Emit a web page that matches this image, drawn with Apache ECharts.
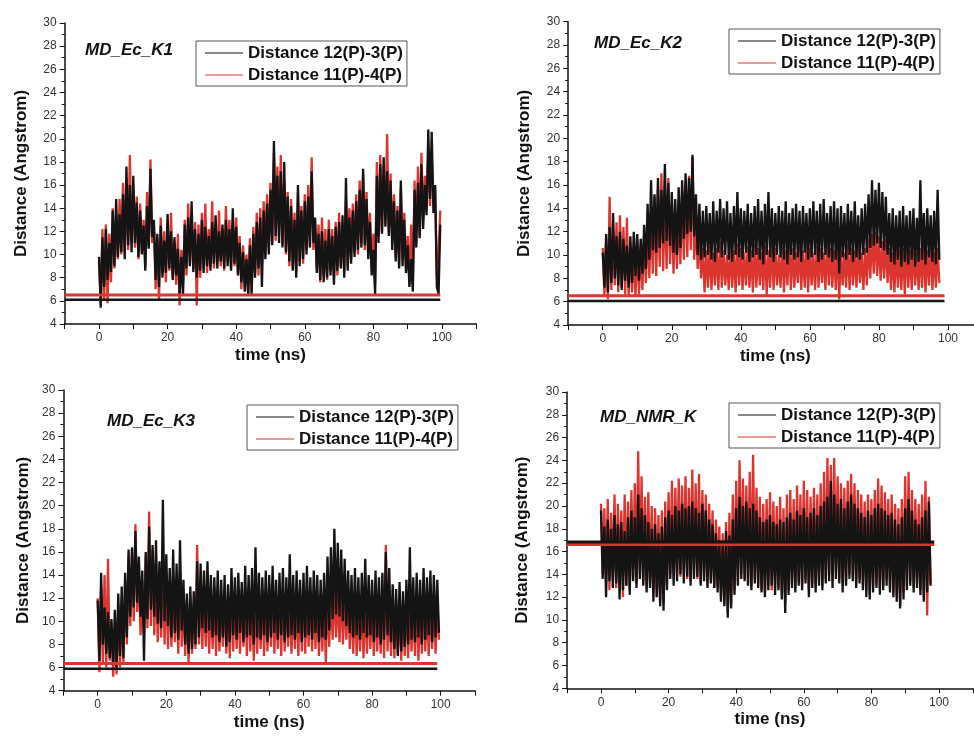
<!DOCTYPE html>
<html>
<head>
<meta charset="utf-8">
<script src="https://cdn.jsdelivr.net/npm/echarts@6/dist/echarts.min.js"></script>
<style>
  html, body { margin: 0; padding: 0; background: #fff; }
  #main { width: 974px; height: 739px; }
</style>
</head>
<body>
<div id="main"></div>
<script>
// trace values every 0.5 ns (high / low alternate)
var k1Black = [
  9.8,5.4, 11.5,7.2, 12.2,7.8, 11.0,8.5, 13.8,9.0, 14.8,9.8, 13.5,10.2, 15.2,9.6, 17.6,10.8, 16.0,10.2,
  16.8,11.0, 14.5,9.8, 13.8,10.0, 12.5,8.6, 14.2,10.5, 17.4,11.5, 13.0,7.8, 11.8,7.2, 12.5,8.0, 11.2,8.4,
  13.5,8.8, 12.0,7.8, 11.5,8.2, 10.5,6.5, 9.8,6.6, 12.6,8.8, 13.2,9.0, 14.6,8.5, 12.2,8.0, 11.8,8.6,
  13.0,8.4, 12.4,9.0, 11.6,8.6, 12.8,9.2, 13.4,8.8, 12.0,9.4, 12.6,8.8, 13.0,9.0, 12.2,8.6, 14.0,9.2,
  12.4,8.2, 11.0,7.6, 10.2,6.8, 9.6,6.5, 10.8,6.6, 11.8,8.0, 12.8,8.8, 13.2,7.2, 13.8,9.6, 14.4,10.0,
  15.6,10.8, 19.8,11.6, 16.8,11.0, 17.2,10.6, 18.0,10.2, 15.0,9.4, 14.2,8.6, 13.0,8.0, 16.0,9.0, 13.8,9.6,
  14.6,10.0, 15.0,10.6, 17.2,11.0, 13.2,8.4, 11.8,7.8, 12.0,7.6, 11.2,8.0, 12.2,8.2, 11.6,7.4, 12.4,8.6,
  12.8,8.8, 13.4,8.0, 16.6,8.6, 13.2,9.2, 13.8,9.8, 14.6,10.4, 15.6,10.6, 17.4,10.8, 14.8,9.6, 12.8,8.2,
  10.4,6.6, 16.8,11.0, 17.8,11.8, 18.4,12.4, 17.2,11.6, 16.4,10.4, 14.6,9.4, 13.8,8.8, 16.4,9.0, 13.0,8.4,
  10.8,7.2, 9.6,6.8, 15.6,10.6, 16.2,11.4, 17.8,12.2, 16.0,13.4, 20.8,14.8, 20.6,13.6, 16.0,7.2, 6.6,12.6
];
var k1Red = [
  9.4,6.2, 12.2,6.0, 12.6,5.8, 11.8,7.6, 14.0,8.8, 13.6,9.6, 14.8,10.0, 16.2,10.2, 16.6,10.4, 18.6,11.0,
  15.6,10.6, 15.0,9.6, 14.4,10.2, 13.0,9.0, 15.4,10.8, 18.2,11.0, 12.6,7.0, 11.4,6.0, 13.2,8.4, 12.0,7.6,
  12.8,8.6, 13.6,8.0, 11.0,7.4, 11.8,5.6, 10.4,7.2, 13.0,8.2, 14.4,9.2, 13.4,8.8, 12.8,5.6, 12.6,8.0,
  13.6,8.8, 14.4,8.4, 12.2,9.2, 14.6,8.8, 12.6,9.4, 13.8,9.0, 12.2,8.6, 14.2,9.4, 13.0,8.8, 12.6,9.0,
  13.2,8.4, 11.6,7.0, 10.8,7.4, 10.0,6.6, 11.4,6.8, 12.4,8.4, 13.6,8.2, 14.0,9.2, 14.6,9.8, 15.2,10.6,
  16.2,11.0, 18.8,11.2, 17.6,11.6, 18.6,10.8, 16.4,10.0, 15.4,9.0, 14.8,8.8, 13.6,8.4, 15.4,9.4, 14.2,9.2,
  15.2,10.4, 16.0,10.8, 18.4,10.4, 12.8,8.8, 12.6,7.6, 13.2,8.2, 12.2,7.8, 13.0,8.6, 12.2,8.0, 12.8,8.2,
  13.6,9.0, 12.6,8.4, 14.8,9.0, 14.0,9.6, 14.4,10.2, 15.2,10.0, 16.4,11.0, 17.0,10.4, 15.4,9.8, 13.6,8.6,
  11.8,7.4, 18.0,11.6, 18.6,12.0, 17.6,12.6, 20.4,12.0, 17.0,11.0, 15.2,9.8, 14.2,9.0, 15.8,9.6, 13.6,8.8,
  11.6,7.8, 12.6,7.2, 16.4,11.0, 17.6,11.6, 18.8,13.0, 16.8,14.0, 19.0,14.2, 18.4,15.0, 15.8,8.0, 10.2,13.8
];
var k2Black = [
  10.2,7.2, 11.8,6.8, 12.4,7.6, 13.6,8.0, 11.6,7.4, 12.0,7.0, 11.4,7.8, 10.8,7.2, 11.6,7.6, 12.0,8.2,
  11.8,7.8, 11.4,8.4, 12.6,8.8, 14.4,9.6, 16.4,10.4, 15.2,10.2, 16.6,10.6, 15.6,11.0, 17.8,11.2, 16.2,10.8,
  15.4,10.2, 14.8,10.0, 15.8,10.6, 16.4,11.4, 17.0,11.8, 16.6,12.0, 18.6,11.6, 15.2,10.0, 14.4,9.6, 13.8,9.8,
  14.2,10.0, 13.6,9.6, 14.6,9.4, 13.8,10.2, 14.8,9.8, 14.0,10.0, 14.6,9.6, 13.6,9.4, 14.2,10.0, 15.4,9.8,
  14.0,9.6, 13.8,10.2, 14.4,9.4, 13.6,9.8, 14.2,10.0, 14.8,9.6, 13.8,9.2, 14.4,10.0, 15.4,9.8, 14.0,9.4,
  13.6,10.0, 14.2,9.8, 13.8,9.6, 14.6,9.2, 13.6,10.0, 14.0,9.6, 14.4,9.8, 13.8,9.4, 14.2,10.2, 13.6,9.6,
  14.0,9.8, 14.6,10.0, 13.8,9.4, 14.4,9.6, 14.8,10.0, 13.6,9.8, 14.2,9.4, 14.6,9.6, 14.0,8.4, 14.2,9.8,
  13.6,9.6, 14.4,10.0, 13.8,9.4, 14.6,9.8, 13.4,9.6, 14.0,10.0, 14.4,10.2, 15.2,10.6, 16.4,10.8, 15.6,11.0,
  16.2,10.6, 15.4,10.4, 15.0,10.0, 13.6,9.4, 14.0,9.2, 13.4,9.6, 13.8,9.0, 14.2,9.4, 13.4,9.2, 13.8,9.6,
  14.0,9.0, 13.2,9.4, 16.4,9.6, 13.6,9.2, 14.0,9.8, 13.4,9.4, 13.8,9.2, 15.6,9.6
];
var k2Red = [
  10.6,6.6, 11.4,6.2, 15.0,7.0, 12.2,7.4, 12.8,6.8, 13.4,7.2, 12.4,6.6, 13.2,6.4, 11.0,6.8, 10.6,6.4,
  11.2,6.6, 10.8,7.0, 11.6,7.6, 12.8,8.0, 13.6,8.4, 15.0,8.2, 15.6,9.0, 17.0,8.6, 14.8,8.8, 16.6,9.2,
  14.2,8.4, 13.6,8.8, 14.4,9.2, 15.6,9.6, 16.2,9.8, 16.8,10.4, 18.4,9.6, 13.2,8.8, 11.4,8.0, 10.6,6.8,
  10.4,7.2, 10.8,7.0, 10.2,7.4, 10.6,7.0, 11.2,7.2, 10.4,7.4, 10.0,7.0, 10.8,7.2, 10.4,6.8, 11.0,7.4,
  10.6,7.0, 10.2,7.4, 10.8,7.2, 10.4,6.8, 11.0,7.2, 10.6,7.4, 10.2,7.0, 10.8,6.6, 10.4,7.2, 11.2,7.0,
  10.6,7.4, 10.0,7.2, 10.8,6.8, 10.4,7.4, 11.4,7.0, 10.6,7.2, 10.2,7.6, 10.8,7.0, 10.4,7.2, 11.0,6.8,
  10.6,7.4, 10.2,7.0, 10.8,7.2, 10.6,7.6, 10.2,7.0, 11.2,7.4, 10.6,7.2, 10.4,7.0, 10.8,6.2, 10.4,7.4,
  10.2,7.2, 11.0,7.0, 10.6,7.4, 10.4,7.2, 10.8,7.6, 10.2,7.0, 10.6,7.4, 11.4,8.0, 11.8,8.4, 12.0,8.2,
  11.6,7.8, 11.2,8.0, 11.4,7.6, 10.6,7.0, 10.2,6.8, 10.8,7.2, 10.4,7.0, 10.6,6.6, 11.0,7.2, 10.4,7.0,
  10.8,7.4, 10.2,7.0, 10.6,7.2, 11.0,6.8, 10.4,7.4, 10.8,7.0, 10.2,7.2, 10.6,7.6
];
var k3Black = [
  11.8,6.6, 14.2,8.0, 11.2,7.2, 10.8,6.8, 10.2,6.2, 11.0,6.0, 12.4,7.0, 13.0,6.8, 14.2,8.6, 16.2,10.4,
  16.4,11.2, 17.8,11.6, 15.6,10.4, 14.4,6.6, 16.0,10.2, 18.2,11.0, 16.6,10.4, 17.0,9.8, 15.2,9.4, 20.5,10.0,
  15.8,9.6, 14.6,8.6, 16.2,9.0, 15.0,8.4, 17.0,9.2, 13.6,8.0, 12.4,7.2, 13.0,7.6, 12.6,8.0, 15.2,8.6,
  15.0,9.4, 14.4,9.0, 15.2,9.2, 14.0,8.6, 13.8,8.8, 14.4,8.2, 13.6,8.6, 14.0,7.8, 13.2,8.2, 14.6,8.8,
  13.8,8.4, 14.2,9.0, 13.4,8.2, 14.8,8.6, 14.0,8.8, 14.6,8.0, 16.4,8.6, 14.2,8.4, 13.8,8.8, 14.4,8.2,
  14.0,8.6, 14.8,9.0, 13.6,8.4, 14.2,8.8, 14.6,8.2, 13.8,8.6, 15.8,8.8, 14.0,8.4, 14.4,9.0, 13.6,8.2,
  14.2,8.6, 14.8,8.8, 13.8,8.4, 14.4,9.0, 14.0,8.2, 13.6,8.6, 14.2,8.4, 15.6,9.2, 16.4,10.2, 18.0,10.6,
  16.8,10.4, 16.2,10.0, 15.4,9.6, 14.4,9.0, 14.0,8.6, 14.6,8.8, 13.8,8.4, 14.2,9.0, 15.4,8.6, 14.0,8.8,
  13.6,8.2, 14.4,8.6, 13.8,8.0, 14.2,8.4, 16.0,8.8, 14.6,8.2, 13.2,7.6, 12.8,7.0, 13.4,7.4, 12.6,7.8,
  13.6,8.0, 16.4,8.4, 13.8,8.2, 14.2,8.6, 13.6,8.0, 14.6,8.4, 13.8,8.8, 14.4,8.2, 14.0,8.6, 13.6,9.0
];
var k3Red = [
  12.0,5.6, 12.8,6.4, 14.0,6.0, 15.4,6.6, 10.0,5.2, 9.6,5.4, 11.4,6.0, 12.0,6.4, 13.6,8.0, 15.6,9.6,
  16.0,10.0, 18.4,10.8, 14.2,8.8, 13.6,9.0, 15.6,9.4, 19.5,9.6, 16.2,8.8, 15.0,8.2, 14.0,8.6, 15.6,8.0,
  14.0,7.6, 13.2,7.8, 13.6,8.2, 12.8,7.2, 14.4,7.8, 12.4,7.0, 11.8,6.4, 12.2,7.2, 11.6,7.6, 16.6,8.0,
  13.0,7.6, 12.4,7.8, 12.8,7.2, 12.2,7.6, 13.0,7.0, 12.4,7.4, 12.0,7.8, 12.6,7.2, 12.2,6.8, 13.2,7.4,
  12.6,7.6, 12.0,7.2, 12.8,7.8, 12.4,7.0, 13.0,7.4, 12.2,6.6, 12.6,7.2, 12.0,7.6, 12.8,7.0, 12.4,7.4,
  13.2,7.8, 12.6,7.2, 12.2,7.6, 12.8,7.0, 13.4,7.4, 12.4,7.8, 12.0,7.2, 12.6,7.6, 12.2,7.0, 12.8,7.4,
  13.0,7.2, 12.4,7.8, 12.8,7.4, 12.2,7.6, 12.6,7.0, 12.0,7.4, 12.4,6.4, 12.8,7.8, 12.6,8.4, 13.0,8.6,
  12.4,8.2, 12.8,8.0, 12.0,8.4, 12.4,7.6, 11.8,7.2, 12.2,7.0, 11.6,7.4, 12.4,6.8, 12.0,7.2, 11.8,7.6,
  12.2,7.0, 11.6,7.4, 12.4,7.2, 12.0,6.8, 16.6,7.4, 12.2,7.0, 11.8,6.8, 12.0,7.2, 11.4,6.6, 11.8,7.0,
  12.2,6.8, 11.6,7.4, 12.0,7.0, 12.4,6.6, 11.8,7.2, 12.2,7.4, 11.6,7.0, 12.0,7.6, 12.4,7.2, 11.8,8.4
];
var nmrBlack = [
  19.6,13.6, 18.2,12.0, 18.8,13.4, 18.0,12.8, 19.2,13.2, 18.4,11.8, 18.6,12.6, 17.8,13.0, 19.0,12.2, 19.6,13.4,
  19.0,12.8, 21.0,13.6, 19.8,13.0, 19.2,12.4, 18.6,12.8, 18.0,11.6, 18.4,12.0, 17.6,11.2, 18.2,10.8, 19.0,12.6,
  19.6,13.6, 19.2,13.0, 20.0,13.4, 19.6,14.0, 20.2,13.2, 19.8,13.8, 20.0,13.0, 20.4,13.6, 19.8,13.8, 19.4,13.0,
  20.2,13.4, 19.6,12.8, 18.8,13.2, 18.4,12.8, 17.6,12.4, 17.0,11.6, 16.8,11.2, 17.8,10.2, 17.4,11.0, 18.8,12.2,
  19.8,13.0, 20.8,13.6, 20.0,13.4, 20.4,13.0, 19.8,12.6, 20.2,13.2, 19.6,12.8, 19.0,12.4, 18.6,12.0, 18.8,12.6,
  19.2,13.0, 18.6,12.2, 18.4,12.6, 18.8,11.8, 18.6,10.6, 19.0,12.2, 19.4,12.8, 18.8,12.4, 19.6,13.0, 19.2,12.6,
  19.8,13.2, 19.0,12.0, 19.4,12.8, 19.8,12.4, 19.2,13.0, 20.0,12.6, 20.4,13.2, 20.8,13.4, 22.2,12.8, 21.0,13.6,
  20.2,13.2, 20.6,12.4, 19.8,13.0, 20.4,13.6, 21.0,13.4, 20.2,12.8, 19.8,13.2, 19.4,12.6, 19.0,12.0, 19.6,11.8,
  19.2,12.4, 19.8,12.8, 20.2,12.2, 19.8,12.6, 19.6,13.0, 19.2,12.4, 19.4,12.0, 18.8,11.6, 18.4,11.0, 19.0,11.8,
  19.8,12.6, 20.6,13.0, 19.6,12.4, 18.8,12.8, 18.4,12.2, 19.0,11.6, 19.6,12.4, 20.4,13.0
];
var nmrRed = [
  20.2,14.0, 19.8,13.2, 20.6,12.6, 19.4,13.6, 21.0,12.8, 20.2,13.4, 19.6,12.0, 21.0,13.0, 20.4,12.6, 21.4,13.8,
  22.0,13.2, 24.8,14.0, 22.6,13.4, 20.8,12.8, 21.2,13.2, 20.0,12.4, 19.8,12.0, 19.2,11.6, 19.6,11.4, 20.4,13.0,
  21.2,14.0, 22.2,13.6, 21.6,14.2, 22.4,13.8, 21.8,14.4, 22.6,13.6, 21.6,13.4, 23.2,14.0, 22.0,13.6, 22.8,13.2,
  21.4,13.8, 21.0,13.0, 20.2,13.6, 19.6,12.8, 18.8,13.0, 18.2,12.0, 17.6,11.6, 18.6,10.6, 19.4,11.4, 21.0,12.6,
  22.2,13.4, 24.0,14.0, 22.4,13.6, 21.8,13.2, 23.0,13.0, 24.5,13.6, 21.6,13.0, 20.8,12.6, 20.2,12.4, 20.6,13.0,
  21.2,12.6, 20.4,13.2, 20.0,12.8, 20.8,12.2, 19.8,11.4, 21.0,12.6, 21.4,13.2, 20.6,12.8, 21.8,13.4, 21.0,13.0,
  22.2,13.6, 21.4,12.6, 20.8,13.2, 21.6,12.8, 21.0,13.4, 22.0,13.0, 23.0,13.6, 24.2,14.0, 23.6,13.4, 24.2,14.2,
  22.6,13.6, 22.0,13.0, 21.6,13.4, 22.2,14.0, 22.8,13.8, 22.0,13.2, 21.4,13.6, 21.0,13.0, 20.4,12.6, 21.0,12.2,
  20.6,13.0, 21.4,13.2, 22.4,12.8, 21.8,13.0, 21.2,13.6, 20.6,12.8, 21.0,12.4, 20.2,12.0, 19.8,11.2, 20.6,12.4,
  22.6,13.0, 23.0,13.4, 21.4,12.8, 20.6,13.2, 20.2,12.6, 21.0,12.0, 22.2,10.4, 20.8,13.2
];

// horizontal reference lines, one per panel
var refBlack = [6.1, 6.05, 5.9, 16.8];
var refRed = [6.5, 6.5, 6.35, 16.6];
var refEnd = [99.5, 99, 99, 98.6];

var panelTitles = ['MD_Ec_K1', 'MD_Ec_K2', 'MD_Ec_K3', 'MD_NMR_K'];
var nameBlack = 'Distance 12(P)-3(P)';
var nameRed = 'Distance 11(P)-4(P)';

var blackData = [k1Black, k2Black, k3Black, nmrBlack];
var redData = [k1Red, k2Red, k3Red, nmrRed];

var FONT = '"Liberation Sans", Arial, sans-serif';

// panel layout
var grids = [
    {left: 64.7, top: 23, width: 411.6, height: 301},
    {left: 568.2, top: 21.7, width: 414.3, height: 303.3},
    {left: 63.4, top: 390, width: 411.6, height: 300.7},
    {left: 567.2, top: 392, width: 405.6, height: 296.3}
];
var titlePos = [[85, 42], [594, 35], [107, 413], [600, 409]];
var legendPos = [[196, 41], [729, 29], [247, 405], [729, 403]];
var yNameGap = [35, 35, 32, 36];

var toXY = function(vals) {  // one sample every 0.5 ns
    var res = [];
    for (var i = 0; i < vals.length; i++) {
        res.push([i * 0.5, vals[i]]);
    }
    return res;
};

var option = {
    animation: false,
    textStyle: {fontFamily: FONT},
    title: [], legend: [], grid: [], xAxis: [], yAxis: [], series: []
};

for (var p = 0; p < 4; p++) {
    option.grid.push(Object.assign({outerBoundsMode: 'none', containLabel: false}, grids[p]));
    option.title.push({
        text: panelTitles[p], left: titlePos[p][0], top: titlePos[p][1], padding: 0,
        textStyle: {fontFamily: FONT, fontSize: 17, fontWeight: 'bold', fontStyle: 'italic', color: '#111'}
    });
    option.legend.push({
        data: [nameBlack, nameRed], orient: 'vertical',
        left: legendPos[p][0], top: legendPos[p][1],
        icon: 'rect', itemWidth: 38, itemHeight: 1.2, itemGap: 2,
        padding: [2, 4, 1, 9], borderColor: '#555', borderWidth: 1, backgroundColor: '#fff',
        selectedMode: false,
        textStyle: {fontFamily: FONT, fontSize: 17, fontWeight: 'bold', color: '#111', lineHeight: 20}
    });
    option.xAxis.push({
        gridIndex: p, type: 'value', min: -10, max: 110, interval: 10,
        name: 'time (ns)', nameLocation: 'middle', nameGap: 23,
        nameTextStyle: {fontFamily: FONT, fontSize: 17, fontWeight: 'bold', color: '#111'},
        axisLine: {onZero: false, lineStyle: {color: '#111', width: 1.5}},
        axisTick: {length: 5, lineStyle: {color: '#111'}},
        axisLabel: {
            margin: 8, fontSize: 12, color: '#333',
            formatter: function(v) { return (v >= 0 && v <= 100 && v % 20 === 0) ? String(v) : ''; }
        },
        splitLine: {show: false}
    });
    option.yAxis.push({
        gridIndex: p, type: 'value', min: 4, max: 30, interval: 2,
        name: 'Distance (Angstrom)', nameLocation: 'middle', nameGap: yNameGap[p],
        nameTextStyle: {fontFamily: FONT, fontSize: 17, fontWeight: 'bold', color: '#111'},
        axisLine: {show: true, onZero: false, lineStyle: {color: '#111', width: 1.5}},
        axisTick: {show: true, length: 5, lineStyle: {color: '#111'}},
        minorTick: {show: true, splitNumber: 2, length: 3, lineStyle: {color: '#111'}},
        axisLabel: {margin: 8, fontSize: 12, color: '#333'},
        splitLine: {show: false}
    });
    option.series.push({
        name: nameRed, type: 'line', xAxisIndex: p, yAxisIndex: p,
        data: toXY(redData[p]), symbol: 'none', silent: true,
        lineStyle: {color: '#dc3530', width: 2.3}, itemStyle: {color: '#dc3530'}
    });
    option.series.push({
        name: nameBlack, type: 'line', xAxisIndex: p, yAxisIndex: p,
        data: toXY(blackData[p]), symbol: 'none', silent: true,
        lineStyle: {color: '#141414', width: 2.3}, itemStyle: {color: '#141414'}
    });
    option.series.push({
        name: 'ref black', type: 'line', xAxisIndex: p, yAxisIndex: p,
        data: [[-10, refBlack[p]], [refEnd[p], refBlack[p]]], symbol: 'none', silent: true,
        lineStyle: {color: '#141414', width: p === 3 ? 4 : 2.5}
    });
    option.series.push({
        name: 'ref red', type: 'line', xAxisIndex: p, yAxisIndex: p,
        data: [[-10, refRed[p]], [refEnd[p], refRed[p]]], symbol: 'none', silent: true,
        lineStyle: {color: '#dc3530', width: p === 3 ? 2.5 : 3}
    });
}

var chart = echarts.init(document.getElementById('main'));
chart.setOption(option);

window.onresize = function () {
    chart.resize();
};
</script>
</body>
</html>
